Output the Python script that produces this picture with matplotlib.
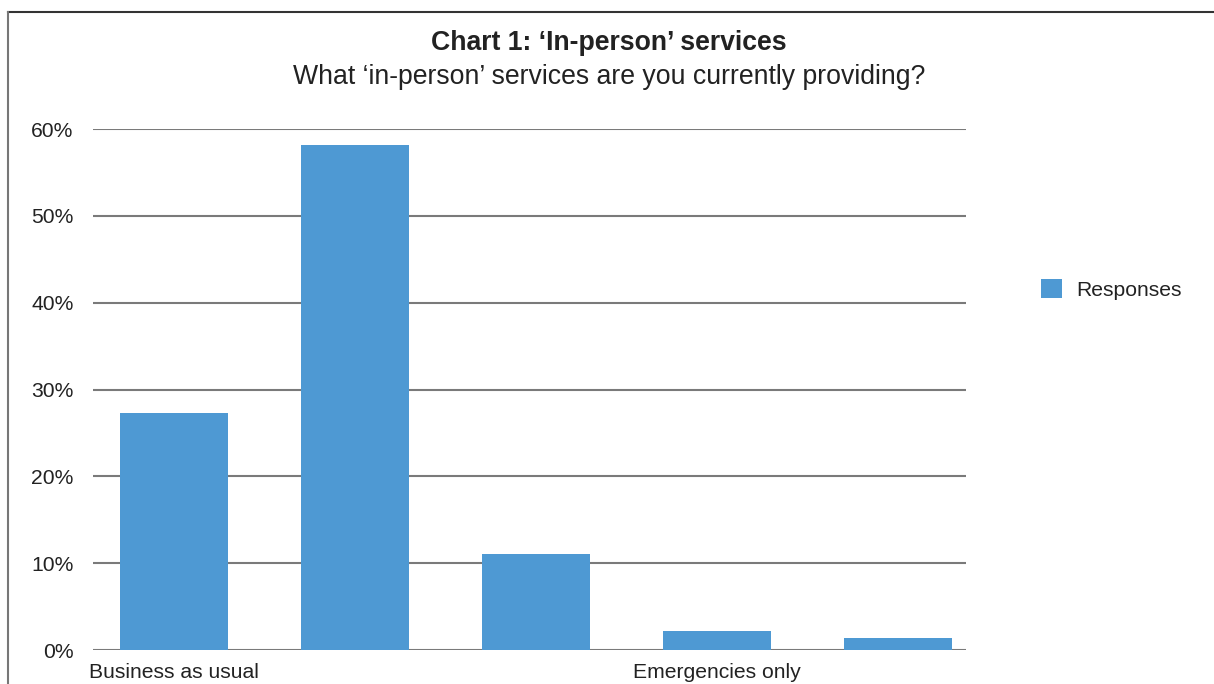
import matplotlib

matplotlib.use("Agg")
import matplotlib.pyplot as plt
from matplotlib.lines import Line2D
from matplotlib.patches import Patch

plt.rcParams["font.family"] = ["Liberation Sans", "DejaVu Sans"]

categories = ["Business as usual", "", "", "Emergencies only", ""]
responses = [0.273, 0.582, 0.111, 0.022, 0.014]
y_ticks = [0.0, 0.1, 0.2, 0.3, 0.4, 0.5, 0.6]
y_tick_labels = ["0%", "10%", "20%", "30%", "40%", "50%", "60%"]

BAR_COLOR = "#4e99d3"
GRID_COLOR = "#7a7a7a"
TEXT_COLOR = "#222222"

fig = plt.figure(figsize=(12.14, 6.84), dpi=100)
ax = fig.add_axes([0.0766, 0.0497, 0.7191, 0.7617])

positions = range(len(categories))
ax.bar(positions, responses, width=0.6, color=BAR_COLOR, zorder=3)

# the plot area is a little wider on the right than the bar slots
ax.set_xlim(-0.4475, 4.3757)
ax.set_ylim(0, 0.6)
ax.set_yticks(y_ticks)
ax.set_yticklabels(y_tick_labels)
ax.set_xticks(list(positions))
ax.set_xticklabels(categories)
ax.tick_params(axis="both", length=0, labelsize=15.2, colors=TEXT_COLOR)
ax.tick_params(axis="y", pad=14)
ax.tick_params(axis="x", pad=9)

ax.grid(axis="y", color=GRID_COLOR, linewidth=1.5, zorder=1)
for spine in ax.spines.values():
    spine.set_visible(False)

fig.text(0.5015, 0.937, "Chart 1: \u2018In-person\u2019 services", ha="center", va="center",
         fontsize=19.2, fontweight="bold", color=TEXT_COLOR)
fig.text(0.5015, 0.888, "What \u2018in-person\u2019 services are you currently providing?",
         ha="center", va="center", fontsize=19.2, color=TEXT_COLOR)

handles = [Patch(facecolor=BAR_COLOR, edgecolor="none", label="Responses")]
fig.legend(handles=handles, loc="center left", bbox_to_anchor=(0.842, 0.577),
           frameon=False, fontsize=15.2, handlelength=1.0, handleheight=1.0,
           handletextpad=0.67, labelcolor=TEXT_COLOR)

# outer frame (top and left edges visible in the crop)
fig.add_artist(Line2D([0.0066, 1.0], [0.9825, 0.9825], transform=fig.transFigure,
                      color="#333333", linewidth=1.5))
fig.add_artist(Line2D([0.0066, 0.0066], [0.0, 0.9825], transform=fig.transFigure,
                      color="#777777", linewidth=1.5))

fig.savefig("out.png", dpi=100)
plt.close(fig)
